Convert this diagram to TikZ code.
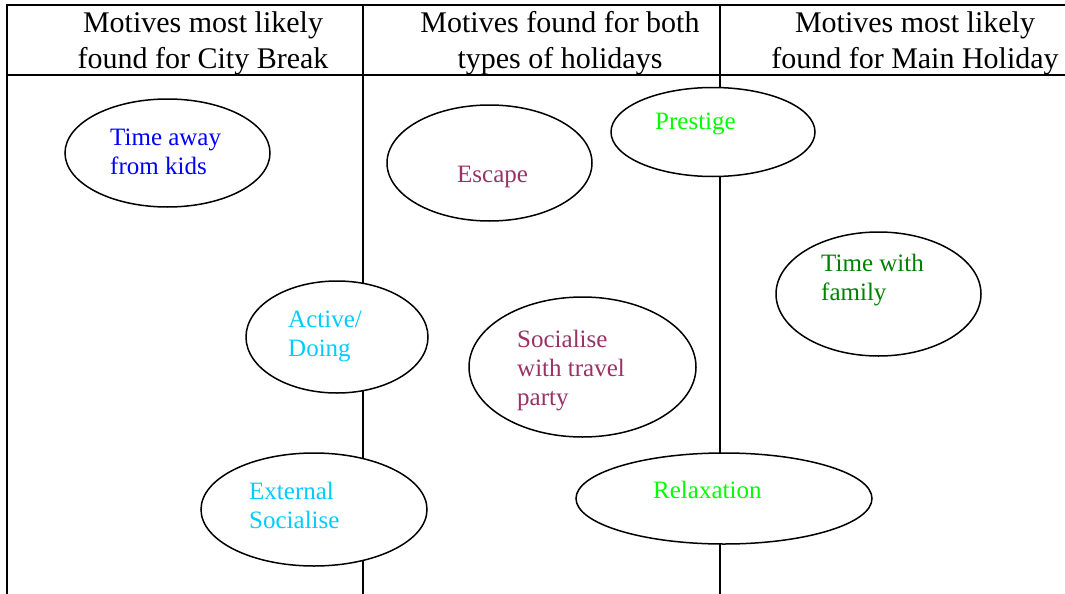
\documentclass[tikz,border=0pt]{standalone}
\usepackage{fontspec}
\setmainfont{Liberation Serif}
\usetikzlibrary{shapes.geometric}

\definecolor{cbBlue}{HTML}{0000FF}
\definecolor{cbPurple}{HTML}{993366}
\definecolor{cbGreen}{HTML}{00FF00}
\definecolor{cbDarkGreen}{HTML}{008000}
\definecolor{cbCyan}{HTML}{00CCFF}

\tikzset{
  rule/.style={line width=1.5pt, line cap=rect},
  motive/.style={ellipse, draw, fill=white, line width=1.5pt, inner sep=0pt},
  heading/.style={align=center, inner sep=0pt, font=\fontsize{30}{36}\selectfont},
  motivetext/.style={align=left, inner sep=0pt, anchor=north west,
    font=\fontsize{25}{29}\selectfont},
}

\begin{document}
\begin{tikzpicture}[x=1pt, y=-1pt]
  \useasboundingbox (0,0) rectangle (1065,594);

  % table frame and column dividers
  \coordinate (tl) at (7,5);
  \coordinate (tr) at (1065,5);
  \coordinate (hl) at (7,75);
  \coordinate (hr) at (1065,75);
  \coordinate (bl) at (7,594);
  \coordinate (c1t) at (363,5);
  \coordinate (c1b) at (363,594);
  \coordinate (c2t) at (720,5);
  \coordinate (c2b) at (720,594);
  \draw[rule] (tl) -- (tr);
  \draw[rule] (hl) -- (hr);
  \draw[rule] (tl) -- (bl);
  \draw[rule] (c1t) -- (c1b);
  \draw[rule] (c2t) -- (c2b);

  % column headings
  \node[heading] (h1) at (203,43) {Motives most likely\\found for City Break};
  \node[heading] (h2) at (560,43) {Motives found for both\\types of holidays};
  \node[heading] (h3) at (915,43) {Motives most likely\\found for Main Holiday};

  % motive ellipses
  \node[motive, minimum width=205pt, minimum height=108pt] (kids) at (167.5,153) {};
  \node[motive, minimum width=205pt, minimum height=116pt] (escape) at (489.5,163) {};
  \node[motive, minimum width=204pt, minimum height=89pt] (prestige) at (713,132) {};
  \node[motive, minimum width=205pt, minimum height=124pt] (family) at (878.5,294) {};
  \node[motive, minimum width=182pt, minimum height=112pt] (active) at (337,337) {};
  \node[motive, minimum width=227pt, minimum height=140pt] (travel) at (582.5,367) {};
  \node[motive, minimum width=226pt, minimum height=113pt] (external) at (314,509.5) {};
  \node[motive, minimum width=296pt, minimum height=91pt] (relax) at (724,498.5) {};

  % motive labels
  \node[motivetext, text=cbBlue] (kidsT) at (110,129) {Time away\\from kids};
  \node[motivetext, text=cbPurple] (escapeT) at (457,166) {Escape};
  \node[motivetext, text=cbGreen] (prestigeT) at (655,113) {Prestige};
  \node[motivetext, text=cbDarkGreen] (familyT) at (821,254) {Time with\\family};
  \node[motivetext, text=cbCyan] (activeT) at (288,311) {Active/\\Doing};
  \node[motivetext, text=cbPurple] (travelT) at (517,330) {Socialise\\with travel\\party};
  \node[motivetext, text=cbCyan] (externalT) at (249,482) {External\\Socialise};
  \node[motivetext, text=cbGreen] (relaxT) at (653,481) {Relaxation};
\end{tikzpicture}
\end{document}
